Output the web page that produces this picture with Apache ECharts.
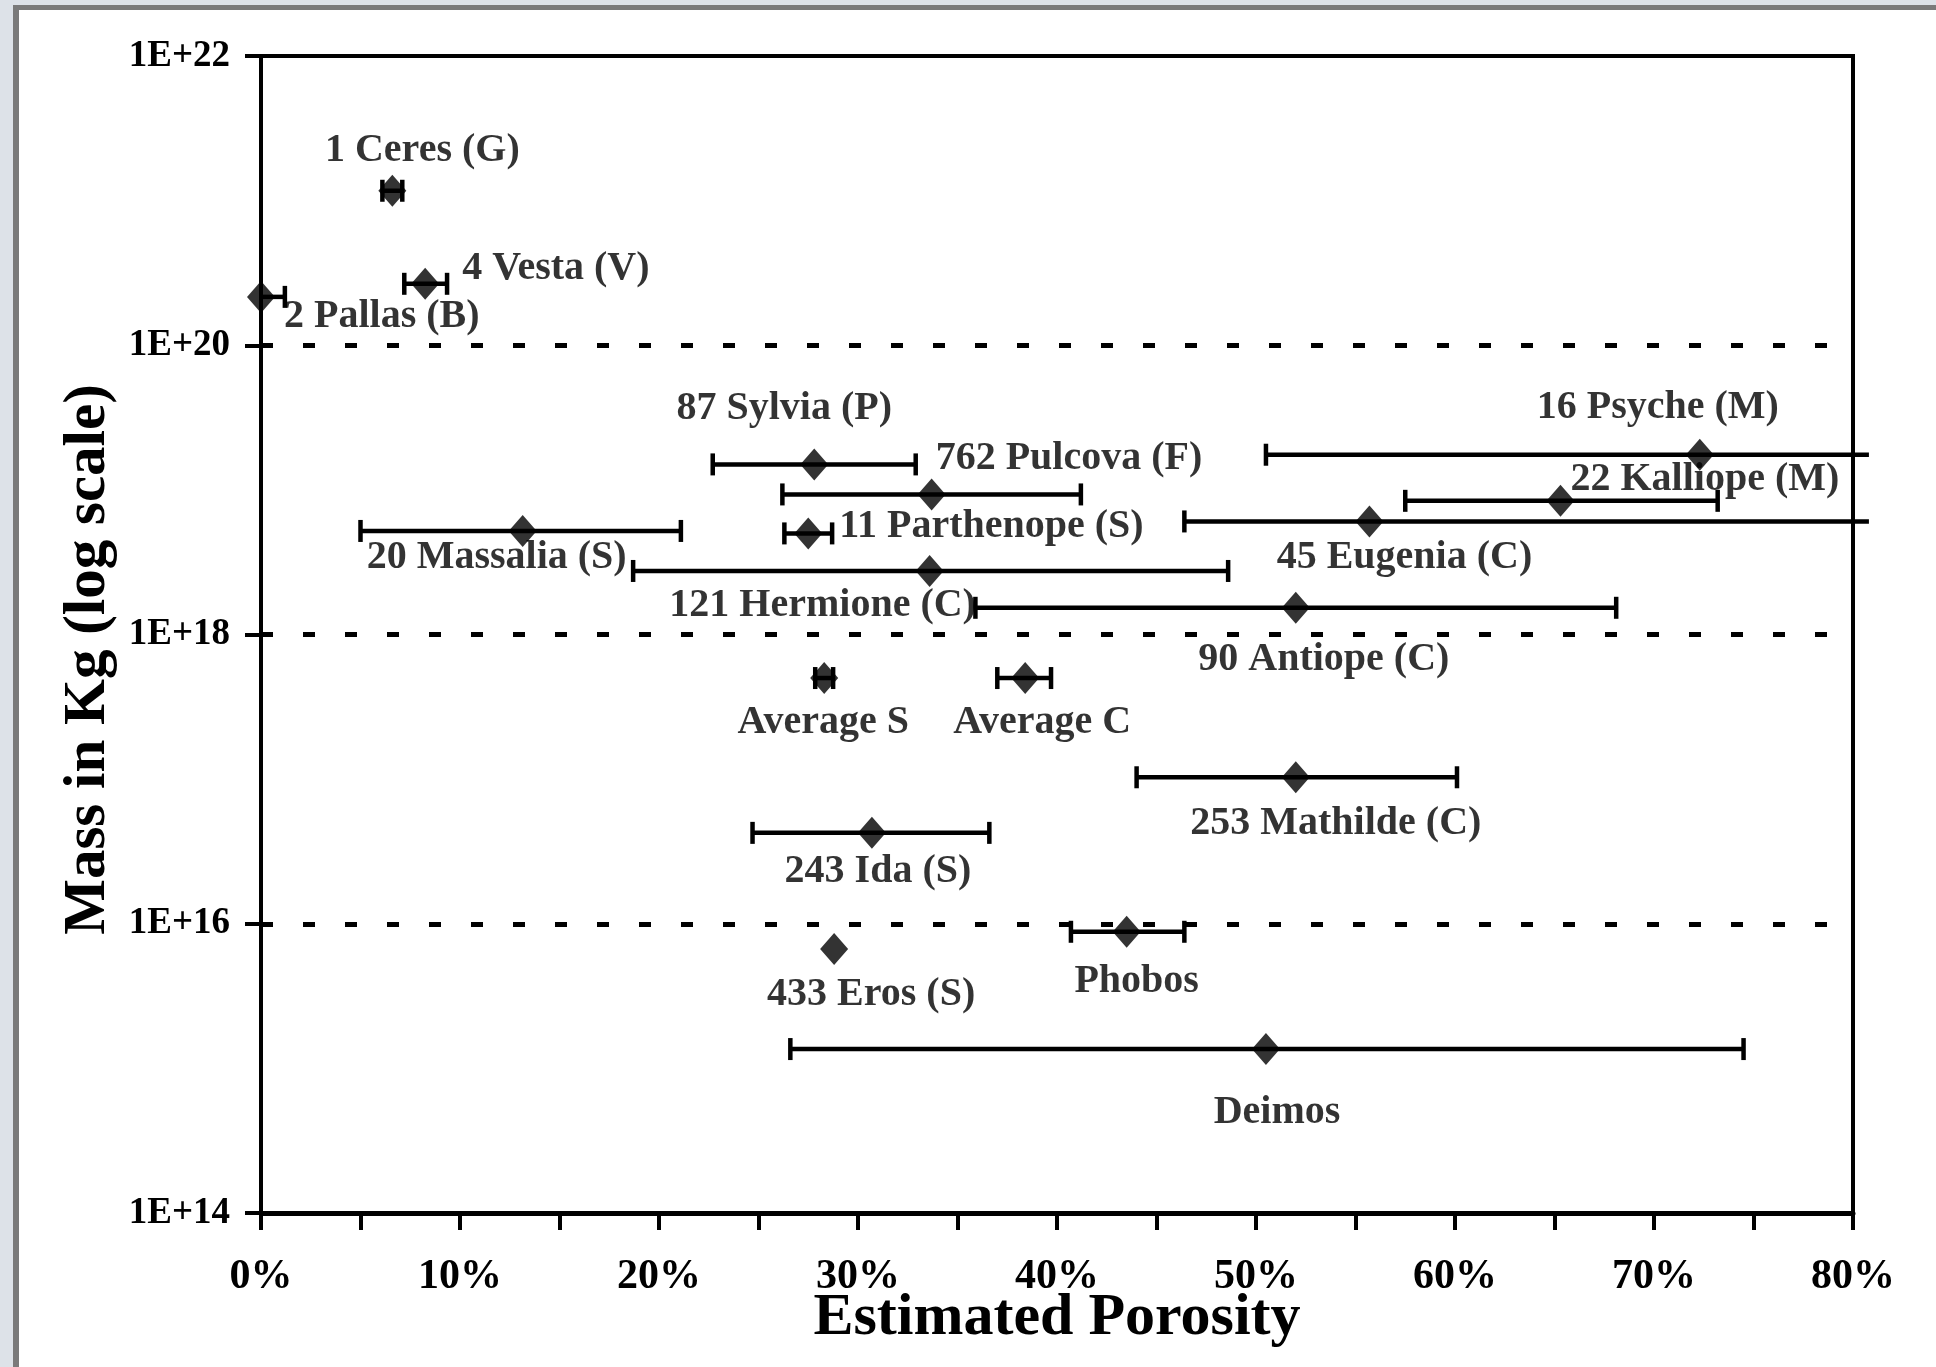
<!DOCTYPE html>
<html>
<head>
<meta charset="utf-8">
<script src="https://cdn.jsdelivr.net/npm/echarts@6/dist/echarts.min.js"></script>
<style>
  html, body { margin: 0; padding: 0; background: #dde2e8; }
  #chart { width: 1936px; height: 1367px; }
</style>
</head>
<body>
<div id="chart"></div>
<script>
// Bodies: estimated porosity (%) with its range, and mass in kg
const names = [
  '1 Ceres (G)', '4 Vesta (V)', '2 Pallas (B)', '87 Sylvia (P)', '762 Pulcova (F)',
  '11 Parthenope (S)', '20 Massalia (S)', '121 Hermione (C)', '90 Antiope (C)', '16 Psyche (M)',
  '22 Kalliope (M)', '45 Eugenia (C)', 'Average S', 'Average C', '253 Mathilde (C)',
  '243 Ida (S)', '433 Eros (S)', 'Phobos', 'Deimos'
];
const porosity     = [6.6, 8.25, 0.0, 27.8, 33.7, 27.5, 13.15, 33.6, 52.0, 72.3, 65.3, 55.7, 28.3, 38.4, 52.0, 30.7, 28.8, 43.5, 50.5];
const porosityLow  = [6.1, 7.2, 0.0, 22.7, 26.2, 26.3, 5.0, 18.7, 35.9, 50.5, 57.5, 46.4, 27.85, 37.0, 44.0, 24.7, null, 40.7, 26.6];
const porosityHigh = [7.1, 9.35, 1.2, 32.9, 41.2, 28.7, 21.1, 48.6, 68.1, 80.8, 73.2, 80.8, 28.75, 39.7, 60.1, 36.6, null, 46.4, 74.5];
const massKg       = [1.17e21, 2.66e20, 2.16e20, 1.5e19, 9.3e18, 5.0e18, 5.2e18, 2.75e18, 1.53e18, 1.75e19,
                      8.4e18, 6.05e18, 5.0e17, 5.0e17, 1.03e17, 4.25e16, 6.7e15, 8.8e15, 1.36e15];
const yTickExponents = [14, 16, 18, 20, 22];

// Where each name sits relative to its marker: [dx, dy, align]
const labelPlacement = [
  [30, -40, 'center'], [37, -15, 'left'], [23, 20, 'left'], [-30, -56, 'center'], [4, -36, 'left'],
  [31, -7, 'left'], [-156, 27, 'left'], [-107, 35, 'center'], [28, 52, 'center'], [-42, -47, 'center'],
  [10, -21, 'left'], [35, 36, 'center'], [-1, 45, 'center'], [17, 45, 'center'], [40, 46, 'center'],
  [6, 39, 'center'], [37, 46, 'center'], [10, 50, 'center'], [11, 64, 'center']
];

const SERIF = "'Liberation Serif', 'Times New Roman', serif";
const X_MIN = 0, X_MAX = 80;

const errorData = [];
names.forEach(function (n, i) {
  if (porosityLow[i] != null) errorData.push([porosityLow[i], porosityHigh[i], massKg[i]]);
});

const pointData = names.map(function (n, i) {
  const p = labelPlacement[i];
  return {
    name: n,
    value: [porosity[i], massKg[i]],
    label: { offset: [p[0], p[1]], align: p[2] }
  };
});

const chart = echarts.init(document.getElementById('chart'), null, { renderer: 'canvas' });

chart.setOption({
  backgroundColor: '#dde2e8',
  animation: false,
  graphic: [
    { type: 'rect', z: -10, silent: true, shape: { x: 13, y: 5, width: 1923, height: 1362 }, style: { fill: '#7a7a7a' } },
    { type: 'rect', z: -9, silent: true, shape: { x: 19, y: 10, width: 1917, height: 1357 }, style: { fill: '#ffffff' } }
  ],
  grid: {
    left: 261, right: 83, top: 56, bottom: 154,
    show: true, borderColor: '#000', borderWidth: 4, backgroundColor: 'transparent'
  },
  xAxis: {
    type: 'value', min: X_MIN, max: X_MAX, interval: 10,
    axisLine: { show: true, onZero: false, lineStyle: { color: '#000', width: 5 } },
    axisTick: { show: true, length: 17, lineStyle: { color: '#000', width: 4 } },
    minorTick: { show: true, splitNumber: 2, length: 17, lineStyle: { color: '#000', width: 4 } },
    splitLine: { show: false },
    axisLabel: {
      formatter: '{value}%', margin: 43, fontSize: 42, fontWeight: 'bold', fontFamily: SERIF, color: '#000'
    },
    name: 'Estimated Porosity', nameLocation: 'middle', nameGap: 75, nameMoveOverlap: false,
    nameTextStyle: { fontSize: 60, fontWeight: 'bold', fontFamily: SERIF, color: '#000' }
  },
  yAxis: {
    type: 'log', logBase: 10, min: 1e14, max: 1e22, interval: 2,
    axisLine: { show: true, onZero: false, lineStyle: { color: '#000', width: 4 } },
    axisTick: { show: true, length: 16, lineStyle: { color: '#000', width: 4 } },
    splitLine: {
      show: true, showMinLine: false, showMaxLine: false,
      lineStyle: { color: '#000', width: 5, type: [12, 30] }
    },
    axisLabel: {
      formatter: function (v) {
        const e = Math.round(Math.log10(v));
        return yTickExponents.indexOf(e) >= 0 ? '1E+' + e : '';
      },
      margin: 31, fontSize: 37, fontWeight: 'bold', fontFamily: SERIF, color: '#000'
    },
    name: 'Mass in Kg (log scale)', nameLocation: 'middle', nameRotate: 90, nameGap: 127,
    nameTextStyle: {
      fontSize: 59, fontWeight: 'bold', fontFamily: SERIF, color: '#000',
      padding: [0, 50, 0, 0]
    }
  },
  series: [
    {
      // horizontal porosity ranges with end caps
      type: 'custom',
      z: 3,
      clip: false,
      encode: { x: [0, 1], y: 2 },
      data: errorData,
      renderItem: function (params, api) {
        const lo = api.value(0), hi = api.value(1), m = api.value(2);
        const a = api.coord([lo, m]);
        const b = api.coord([hi, m]);
        const capH = 11;
        const st = { stroke: '#000', lineWidth: 4.5 };
        const children = [
          { type: 'line', shape: { x1: a[0], y1: a[1], x2: b[0], y2: b[1] }, style: st }
        ];
        if (lo > X_MIN) {
          children.push({ type: 'line', shape: { x1: a[0], y1: a[1] - capH, x2: a[0], y2: a[1] + capH }, style: st });
        }
        if (hi <= X_MAX) {
          children.push({ type: 'line', shape: { x1: b[0], y1: b[1] - capH, x2: b[0], y2: b[1] + capH }, style: st });
        }
        return { type: 'group', children: children };
      }
    },
    {
      type: 'scatter',
      z: 4,
      clip: false,
      symbol: 'diamond',
      symbolSize: [28, 32],
      itemStyle: { color: '#000' },
      label: {
        show: true,
        position: 'inside',
        formatter: '{b}',
        fontSize: 40,
        fontWeight: 'bold',
        fontFamily: SERIF,
        color: '#000'
      },
      emphasis: { disabled: true },
      data: pointData
    }
  ]
});
</script>
</body>
</html>
